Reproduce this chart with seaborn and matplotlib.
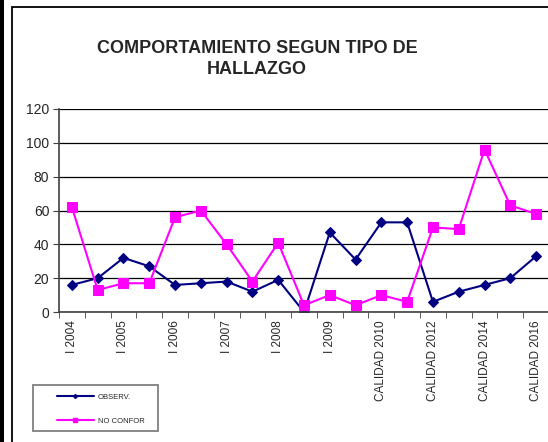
import matplotlib
matplotlib.use("Agg")
from matplotlib import pyplot as plt
from matplotlib.lines import Line2D
from matplotlib.patches import Rectangle
import seaborn as sns
import numpy as np

categories = ["I 2004", "II 2004", "I 2005", "II 2005", "I 2006", "II 2006",
              "I 2007", "II 2007", "I 2008", "II 2008", "I 2009", "II 2009",
              "CALIDAD 2010", "CALIDAD 2011", "CALIDAD 2012", "CALIDAD 2013",
              "CALIDAD 2014", "CALIDAD 2015", "CALIDAD 2016"]
observ = [16, 20, 32, 27, 16, 17, 18, 12, 19, 0, 47, 31, 53, 53, 6, 12, 16, 20, 33]
no_confor = [62, 13, 17, 17, 56, 60, 40, 18, 41, 4, 10, 4, 10, 6, 50, 49, 96, 63, 58]
series_names = ["OBSERV.", "NO CONFOR"]
colors = ["#000080", "#FF00FF"]

sns.set_style("white")
plt.rcParams["font.family"] = ["Liberation Sans", "DejaVu Sans"]

W, H = 548, 442
fig = plt.figure(figsize=(W / 100, H / 100), dpi=100)
ax = fig.add_axes([59 / W, 1 - 312 / H, 490 / W, 203 / H])

pos = np.arange(len(categories))
sns.lineplot(x=pos, y=observ, ax=ax, color=colors[0], marker="D", markersize=5.5,
             markeredgecolor=colors[0], linewidth=1.5, legend=False)
sns.lineplot(x=pos, y=no_confor, ax=ax, color=colors[1], marker="s", markersize=7,
             markeredgecolor=colors[1], linewidth=1.5, legend=False)

ax.set_xlim(-0.5, len(categories) - 0.5)
ax.set_ylim(0, 120)
ax.set_yticks(range(0, 121, 20))
ax.yaxis.grid(True, color="#000000", linewidth=0.9)
ax.set_axisbelow(True)
ax.set_xticks(pos[::2])
ax.set_xticklabels(categories[::2], rotation=90, fontsize=8.5)
ax.set_xticks(np.arange(-0.5, len(categories), 1), minor=True)
ax.tick_params(axis="x", which="major", length=0, pad=6)
ax.tick_params(axis="x", which="minor", length=4, color="#404040", direction="out", bottom=True)
ax.tick_params(axis="y", length=4, color="#404040", direction="out", left=True, labelsize=10, pad=3)
for s in ["top", "right"]:
    ax.spines[s].set_visible(False)
for s in ["left", "bottom"]:
    ax.spines[s].set_color("#404040")
    ax.spines[s].set_linewidth(1.2)
ax.set_xlabel("")
ax.set_ylabel("")

fig.text(257 / W, 1 - 59 / H, "COMPORTAMIENTO SEGUN TIPO DE\nHALLAZGO", ha="center",
         va="center", fontsize=13, fontweight="bold", linespacing=1.35)

# legend box drawn by hand, legend entries placed inside it
fig.patches.append(Rectangle((33 / W, 1 - 431 / H), 125 / W, 46 / H, transform=fig.transFigure,
                             fill=False, edgecolor="#808080", linewidth=1.3))
handles = [Line2D([0], [0], color=colors[0], marker="D", markersize=2, linewidth=1.5),
           Line2D([0], [0], color=colors[1], marker="s", markersize=2.5, linewidth=1.5)]
fig.legend(handles, series_names, loc="center left", bbox_to_anchor=(57 / W, 1 - 409 / H),
           fontsize=5.5, handlelength=4.8, labelspacing=2.2, borderpad=0,
           frameon=False, borderaxespad=0, handletextpad=0.55)

fig.patches.append(Rectangle((12 / W, -0.1), 1.0, 1 - 7 / H + 0.1, transform=fig.transFigure,
                             fill=False, edgecolor="black", linewidth=1.3, clip_on=False))
fig.patches.append(Rectangle((0, 0), 4 / W, 1, transform=fig.transFigure,
                             facecolor="black", edgecolor="none"))

fig.savefig("out.png", dpi=100)
